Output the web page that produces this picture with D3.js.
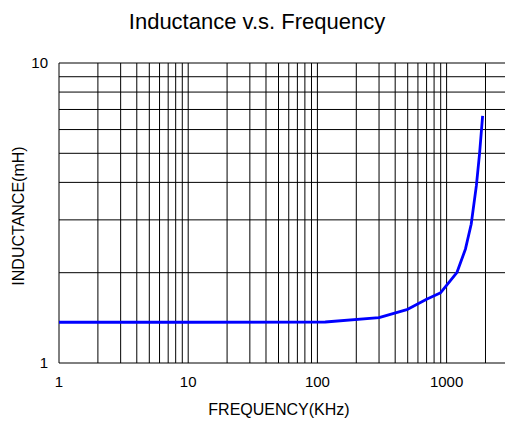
<!DOCTYPE html>
<html>
<head>
<meta charset="utf-8">
<script src="https://cdn.jsdelivr.net/npm/d3@7"></script>
<style>
  body { margin: 0; background: #fff; }
  text { font-family: "Liberation Sans", Arial, sans-serif; fill: #000; }
</style>
</head>
<body>
<svg id="chart" width="505" height="424"></svg>
<script>
// frequency (KHz) and inductance (mH)
const freq = [1, 10, 115, 300, 500, 700, 900, 1200, 1400, 1550, 1700, 1800, 1900];
const inductance = [1.367, 1.367, 1.37, 1.416, 1.51, 1.63, 1.715, 2.0, 2.4, 2.9, 3.9, 5.0, 6.66];

const xGrid = [];
for (let d = 1; d <= 100; d *= 10) {
    for (let k = 1; k <= 9; k++) xGrid.push(k * d);
}
xGrid.push(1000, 2000);
const yGrid = [1, 2, 3, 4, 5, 6, 7, 8, 9, 10];
const xTicks = [1, 10, 100, 1000];
const yTicks = [1, 10];

const svg = d3.select("#chart");
const plotLeft = 59, plotTop = 63, plotBottom = 363;
const decade = 129.2;

const x = d3.scaleLog().domain([1, 3000]).range([plotLeft, plotLeft + decade * Math.log10(3000)]);
const y = d3.scaleLog().domain([1, 10]).range([plotBottom, plotTop]);

svg.append("text")
    .attr("x", 257).attr("y", 29)
    .attr("text-anchor", "middle")
    .style("font-size", "22px")
    .text("Inductance v.s. Frequency");

const grid = svg.append("g").attr("stroke", "#000").attr("stroke-width", 1);

grid.selectAll("line.v")
    .data(xGrid)
    .enter().append("line")
    .attr("class", "v")
    .attr("x1", d => x(d)).attr("x2", d => x(d))
    .attr("y1", plotTop).attr("y2", plotBottom);

grid.selectAll("line.h")
    .data(yGrid)
    .enter().append("line")
    .attr("class", "h")
    .attr("x1", plotLeft).attr("x2", 505)
    .attr("y1", d => y(d)).attr("y2", d => y(d));

// tick labels
svg.append("g").selectAll("text")
    .data(xTicks)
    .enter().append("text")
    .attr("x", d => x(d)).attr("y", 387)
    .attr("text-anchor", "middle")
    .style("font-size", "15px")
    .text(d => d);

svg.append("g").selectAll("text")
    .data(yTicks)
    .enter().append("text")
    .attr("x", 48).attr("y", d => y(d))
    .attr("dy", "0.35em")
    .attr("text-anchor", "end")
    .style("font-size", "15px")
    .text(d => d);

const line = d3.line()
    .x((d, i) => x(freq[i]))
    .y(d => y(d));

svg.append("path")
    .datum(inductance)
    .attr("fill", "none")
    .attr("stroke", "#0000ff")
    .attr("stroke-width", 2.8)
    .attr("stroke-linejoin", "round")
    .attr("d", line);

svg.append("text")
    .attr("x", 279).attr("y", 415)
    .attr("text-anchor", "middle")
    .style("font-size", "16px")
    .text("FREQUENCY(KHz)");

svg.append("text")
    .attr("transform", "translate(24,216) rotate(-90)")
    .attr("text-anchor", "middle")
    .style("font-size", "16px")
    .text("INDUCTANCE(mH)");
</script>
</body>
</html>
